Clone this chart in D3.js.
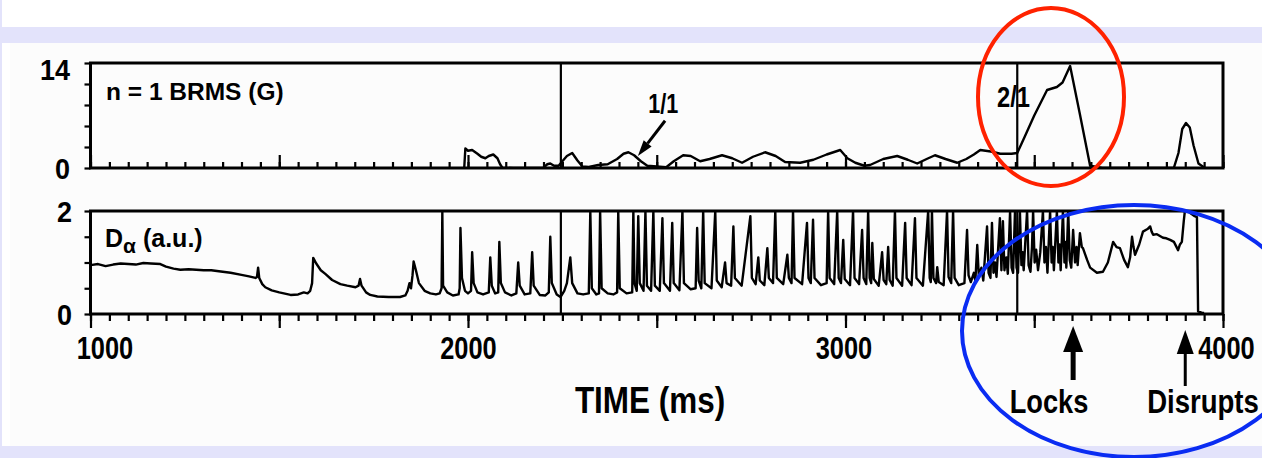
<!DOCTYPE html>
<html>
<head>
<meta charset="utf-8">
<script src="https://cdn.jsdelivr.net/npm/d3@7"></script>
<style>
  html, body { margin: 0; padding: 0; background: #fff; }
  svg { display: block; }
  text { font-family: "Liberation Sans", Arial, Helvetica, sans-serif; font-weight: bold; fill: #000; }
</style>
</head>
<body>
<svg id="chart" width="1262" height="458"></svg>
<script>
// ---------------- data ----------------
// time axis (ms)
const timeTicks = [1000, 2000, 3000, 4000];
// labelled ticks of the two vertical axes
const brmsTicks = [0, 14];
const dalphaTicks = [0, 2];
// onset of the 1/1 mode and of the 2/1 mode (ms)
const markerTimes = [2246, 3455];
// events marked under the time axis
const eventNames = ["Locks", "Disrupts"];
const eventTimes = [3603, 3900];

// n = 1 BRMS amplitude (G) versus time (ms)
const brms = [
  [1990,0],[1993,2.6],[2000,2.3],[2011,2.4],[2025,1.9],[2035,1.5],[2046,1.3],[2055,1.6],[2067,1.8],
  [2078,1.3],[2085,0.5],[2091,0.05],[2120,0],[2150,0],[2200,0.05],[2210,0.5],[2218,0.6],[2228,0.3],
  [2240,0.3],[2250,0.9],[2262,1.6],[2276,2.0],[2290,1.0],[2303,0.2],[2320,0.15],[2345,0.4],[2370,0.5],
  [2395,1.2],[2412,1.9],[2425,2.1],[2440,1.7],[2458,0.9],[2475,0.3],[2500,0.2],[2525,0.1],[2545,0.9],
  [2570,1.7],[2590,1.6],[2615,0.9],[2640,1.2],[2673,1.7],[2700,1.3],[2726,0.7],[2755,1.5],[2787,2.1],
  [2815,1.6],[2840,0.8],[2880,0.7],[2915,1.1],[2950,1.8],[2986,2.4],[3005,1.3],[3026,0.7],[3050,0.3],
  [3065,0.4],[3100,1.2],[3137,1.6],[3165,1.1],[3190,0.6],[3215,1.2],[3237,1.7],[3265,1.2],[3296,0.7],
  [3320,1.2],[3340,1.8],[3357,2.4],[3385,2.2],[3410,1.9],[3440,1.9],[3455,2.0],[3475,4.2],[3500,7.0],
  [3534,10.4],[3560,10.8],[3575,11.4],[3595,13.6],[3620,7.4],[3648,0.3],[3680,0],[3760,0],[3870,0.05],
  [3882,2.0],[3892,5.2],[3902,6.0],[3912,5.4],[3922,3.0],[3935,0.6],[3952,0]
];

// D-alpha emission (a.u.) versus time (ms)
const dalpha = [
  [1000,0.95],[1020,0.97],[1040,0.93],[1060,0.96],[1080,0.98],[1100,0.97],[1120,0.96],[1140,0.99],
  [1160,0.98],[1185,0.97],[1200,0.92],[1220,0.88],[1238,0.86],[1260,0.87],[1280,0.86],[1300,0.85],
  [1320,0.85],[1340,0.83],[1371,0.8],[1400,0.76],[1420,0.73],[1437,0.7],[1441,0.72],[1444,0.9],
  [1447,0.7],[1455,0.58],[1463,0.52],[1480,0.46],[1500,0.42],[1530,0.37],[1550,0.38],[1565,0.42],
  [1575,0.4],[1582,0.45],[1587,0.6],[1590,1.09],[1598,0.98],[1610,0.85],[1622,0.78],[1640,0.66],
  [1662,0.58],[1680,0.55],[1702,0.52],[1710,0.55],[1714,0.68],[1718,0.55],[1730,0.42],[1741,0.37],
  [1760,0.34],[1790,0.33],[1820,0.33],[1834,0.36],[1840,0.45],[1845,0.6],[1849,0.5],[1853,0.75],
  [1856,1.02],[1862,0.85],[1870,0.6],[1885,0.45],[1900,0.4],[1915,0.38],[1925,0.4],[1930,0.5],
  [1932,1.98],[1934,0.55],[1945,0.42],[1960,0.36],[1975,0.38],[1978,0.5],[1980,1.67],[1984,0.7],
  [1992,0.45],[2000,0.4],[2008,0.45],[2011,1.2],[2015,0.6],[2025,0.42],[2040,0.38],[2055,0.42],
  [2059,1.1],[2063,0.55],[2072,0.4],[2080,0.42],[2083,1.4],[2087,0.6],[2098,0.42],[2115,0.36],
  [2128,0.4],[2133,1.0],[2137,0.55],[2150,0.38],[2165,0.4],[2170,1.2],[2174,0.55],[2190,0.37],
  [2205,0.36],[2214,0.42],[2218,1.5],[2222,0.6],[2235,0.38],[2245,0.33],[2255,0.45],[2262,0.6],
  [2271,1.1],[2276,0.6],[2290,0.4],[2305,0.38],[2320,0.4],[2324,2.0],[2328,0.5],[2340,0.38],
  [2347,0.4],[2350,2.0],[2354,0.5],[2370,0.4],[2385,0.38],[2395,0.42],[2398,2.0],[2402,0.5],
  [2420,0.4],[2435,0.42],[2438,2.0],[2441,0.6],[2447,0.45],[2451,1.9],[2455,0.6],[2465,0.45],
  [2470,2.0],[2474,0.55],[2485,0.45],[2491,2.0],[2495,0.55],[2508,0.45],[2515,1.86],[2519,0.6],
  [2535,0.45],[2541,1.77],[2545,0.6],[2560,0.46],[2568,2.0],[2572,0.6],[2590,0.48],[2603,0.5],
  [2607,1.67],[2611,0.65],[2618,0.5],[2623,2.0],[2627,0.6],[2645,0.5],[2655,2.0],[2659,0.65],
  [2672,0.52],[2681,1.0],[2685,0.6],[2697,0.55],[2703,1.7],[2707,0.7],[2725,0.55],[2748,1.9],
  [2752,0.7],[2762,0.58],[2769,1.1],[2773,0.65],[2785,0.56],[2793,1.28],[2797,0.7],[2808,0.6],
  [2814,2.0],[2818,0.7],[2835,0.58],[2846,1.15],[2850,0.7],[2857,0.6],[2861,2.0],[2865,0.7],
  [2885,0.58],[2898,1.77],[2902,0.7],[2908,0.6],[2914,1.83],[2918,0.7],[2935,0.56],[2950,0.6],
  [2954,2.0],[2958,0.7],[2970,0.58],[2978,2.0],[2982,0.7],[2988,0.6],[2994,1.44],[2998,0.68],
  [3012,0.56],[3020,2.0],[3024,0.7],[3036,0.58],[3044,1.63],[3048,0.7],[3055,0.58],[3060,2.0],
  [3064,0.7],[3068,0.6],[3071,1.38],[3075,0.68],[3088,0.55],[3097,1.2],[3101,0.66],[3108,0.58],
  [3113,1.3],[3117,0.66],[3125,0.55],[3131,2.0],[3135,0.7],[3150,0.55],[3158,1.77],[3162,0.7],
  [3175,0.56],[3184,1.86],[3188,0.7],[3205,0.55],[3219,2.0],[3223,0.7],[3226,0.62],[3229,2.0],
  [3233,0.7],[3240,0.6],[3243,0.91],[3247,0.62],[3260,0.56],[3269,2.0],[3273,0.72],[3280,0.6],
  [3285,2.0],[3289,0.7],[3300,0.56],[3315,0.6],[3322,1.63],[3326,0.75],[3332,0.62],[3340,0.8],
  [3344,0.64],[3349,1.34],[3353,0.75],[3360,0.9],[3365,0.65],[3375,1.7],[3379,0.8],[3384,0.7],
  [3388,1.77],[3392,0.8],[3396,1.0],[3400,0.72],[3409,1.86],[3413,0.85],[3417,1.8],[3421,0.85],
  [3426,1.1],[3430,0.78],[3436,2.0],[3440,0.9],[3444,0.8],[3449,2.0],[3453,0.9],[3457,0.8],
  [3462,2.0],[3466,0.95],[3469,1.2],[3472,0.85],[3481,2.0],[3485,0.95],[3490,0.82],[3494,1.3],
  [3497,2.0],[3501,1.0],[3505,1.25],[3510,0.85],[3516,1.2],[3523,2.0],[3527,1.0],[3531,1.3],
  [3535,0.8],[3542,2.0],[3546,1.0],[3549,1.3],[3552,0.85],[3560,2.0],[3564,1.0],[3567,1.35],
  [3570,0.85],[3576,2.0],[3580,1.0],[3583,1.4],[3585,0.9],[3590,2.0],[3594,1.05],[3598,0.9],
  [3603,1.63],[3608,1.0],[3612,1.3],[3615,0.95],[3621,1.57],[3626,1.3],[3629,1.28],[3640,1.05],
  [3648,0.9],[3666,0.8],[3682,0.82],[3695,1.0],[3709,1.4],[3718,1.3],[3727,1.28],[3738,1.05],
  [3748,0.91],[3754,1.1],[3759,1.5],[3763,1.3],[3767,1.15],[3778,1.35],[3788,1.6],[3800,1.65],
  [3807,1.7],[3811,1.6],[3815,1.54],[3825,1.55],[3841,1.48],[3850,1.47],[3860,1.44],[3870,1.4],
  [3881,1.24],[3886,1.35],[3891,1.4],[3896,1.8],[3899,2.0],[3907,2.0],[3915,1.95],[3925,1.9],
  [3931,1.88],[3934,0.05],[3945,0.02],[3950,0.02]
];

// ---------------- layout ----------------
const W = 1262, H = 458;
const lavender = "#e3e3fb";
const svg = d3.select("#chart");

// page background
svg.append("rect").attr("width", W).attr("height", H).attr("fill", "#fff");
svg.append("rect").attr("x", 10).attr("y", 43).attr("width", W - 10).attr("height", 403).attr("fill", "#fcfcfc");
svg.append("rect").attr("x", 0).attr("y", 0).attr("width", 2).attr("height", H).attr("fill", lavender);
svg.append("rect").attr("x", 0).attr("y", 27).attr("width", W).attr("height", 16).attr("fill", lavender);
svg.append("rect").attr("x", 0).attr("y", 446).attr("width", W).attr("height", 12).attr("fill", lavender);

const x = d3.scaleLinear().domain([1000, 4000]).range([90.5, 1223]);
const yTop = d3.scaleLinear().domain([0, 14]).range([168, 63]);
const yBot = d3.scaleLinear().domain([0, 2]).range([314, 211]);

const minorTimes = d3.range(1000, 4001, 50);
const midTimes = d3.range(1000, 4001, 500);

// condensed bold text helper
function label(g, str, px, py, size, sx, anchor) {
  return g.append("text")
    .attr("transform", `translate(${px},${py}) scale(${sx},1)`)
    .attr("text-anchor", anchor || "middle")
    .attr("font-size", size)
    .text(str);
}

function panel(y, data, leftTicks, inward) {
  const g = svg.append("g");
  const [y0, y1] = y.range();
  const id = "clip" + Math.round(y0);
  svg.append("clipPath").attr("id", id)
    .append("rect").attr("x", x.range()[0]).attr("y", y1 - 1)
    .attr("width", x.range()[1] - x.range()[0]).attr("height", y0 - y1 + 1);

  // marker lines for the mode onsets
  g.selectAll("line.marker").data(markerTimes).join("line")
    .attr("class", "marker")
    .attr("x1", d => x(d)).attr("x2", d => x(d))
    .attr("y1", y1).attr("y2", y0)
    .attr("stroke", "#000").attr("stroke-width", 2.2);

  // signal trace
  g.append("path").datum(data)
    .attr("clip-path", `url(#${id})`)
    .attr("fill", "none").attr("stroke", "#000").attr("stroke-width", 2.4)
    .attr("stroke-linejoin", "round")
    .attr("d", d3.line().x(d => x(d[0])).y(d => y(d[1])));

  // time ticks along the bottom edge
  const minorAxis = d3.axisBottom(x).tickValues(minorTimes).tickFormat("")
    .tickSize(inward ? -6 : 7).tickSizeOuter(0);
  const midAxis = d3.axisBottom(x).tickValues(midTimes).tickFormat("")
    .tickSize(inward ? -13 : 14).tickSizeOuter(0);
  [minorAxis, midAxis].forEach(a => {
    const ax = g.append("g").attr("transform", `translate(0,${y0})`).call(a);
    ax.select(".domain").remove();
    ax.selectAll("line").attr("stroke", "#000").attr("stroke-width", 2.2);
  });

  // value ticks on the left edge
  const leftAxis = d3.axisLeft(y).tickValues(leftTicks).tickFormat("").tickSize(6).tickSizeOuter(0);
  const la = g.append("g").attr("transform", `translate(${x.range()[0]},0)`).call(leftAxis);
  la.select(".domain").remove();
  la.selectAll("line").attr("stroke", "#000").attr("stroke-width", 2.2);

  // frame
  g.append("rect")
    .attr("x", x.range()[0]).attr("y", y1)
    .attr("width", x.range()[1] - x.range()[0]).attr("height", y0 - y1)
    .attr("fill", "none").attr("stroke", "#000").attr("stroke-width", 3);
  return g;
}

const gTop = panel(yTop, brms, d3.range(0, 14.01, 2.8), true);
const gBot = panel(yBot, dalpha, d3.range(0, 2.01, 0.5), false);

// vertical-axis labels
brmsTicks.forEach((v, i) => label(svg, v, 70, yTop(v) + (i ? 17 : 11), 30, 0.9, "end"));
dalphaTicks.forEach(v => label(svg, v, 72, yBot(v) + 11, 30, 0.9, "end"));

// panel titles
svg.append("text").attr("x", 106).attr("y", 100).attr("font-size", 24.5).text("n = 1 BRMS (G)");
const dt = svg.append("text").attr("x", 105).attr("y", 247).attr("font-size", 25);
dt.append("tspan").text("D");
dt.append("tspan").attr("dy", 6).attr("font-size", 21).text("\u03b1");
dt.append("tspan").attr("dy", -6).text(" (a.u.)");

// time axis labels
const labelAxis = d3.axisBottom(x).tickValues(timeTicks).tickSize(0).tickPadding(0).tickFormat(d3.format("d"));
const lab = svg.append("g").attr("transform", "translate(0,336)").call(labelAxis);
lab.select(".domain").remove();
lab.selectAll("text")
  .attr("font-size", 31).attr("fill", "#000")
  .attr("font-family", "'Liberation Sans', Arial, sans-serif").attr("font-weight", "bold")
  .attr("dy", "0.73em")
  .attr("transform", (d, i) => `translate(${[14, 0, -2, 3][i]},0) scale(0.82,1)`);

label(svg, "TIME (ms)", 650, 413, 37, 0.85);

// mode labels and 1/1 pointer
label(svg, "1/1", x(2517), 113, 27, 0.8);
label(svg, "2/1", x(3445), 107, 29, 0.82);
{
  const tail = [x(2522), yTop(6.3)], tip = [x(2450), yTop(1.6)];
  const ang = Math.atan2(tip[1] - tail[1], tip[0] - tail[0]);
  const back = 16, half = 5;
  const bx = tip[0] - back * Math.cos(ang), by = tip[1] - back * Math.sin(ang);
  svg.append("line").attr("x1", tail[0]).attr("y1", tail[1]).attr("x2", bx).attr("y2", by)
    .attr("stroke", "#000").attr("stroke-width", 3);
  svg.append("path").attr("fill", "#000").attr("d",
    `M${tip[0]},${tip[1]}L${bx + half * Math.sin(ang)},${by - half * Math.cos(ang)}L${bx - half * Math.sin(ang)},${by + half * Math.cos(ang)}Z`);
}

// event arrows beneath the time axis
const evArrow = [{top: 326, head: 26, half: 10, bottom: 380, w: 5}, {top: 330, head: 24, half: 8.5, bottom: 386, w: 3}];
eventTimes.forEach((t, i) => {
  const a = evArrow[i], cx = x(t);
  svg.append("line").attr("x1", cx).attr("x2", cx).attr("y1", a.top + a.head - 2).attr("y2", a.bottom)
    .attr("stroke", "#000").attr("stroke-width", a.w);
  svg.append("path").attr("fill", "#000")
    .attr("d", `M${cx},${a.top}L${cx + a.half},${a.top + a.head}L${cx - a.half},${a.top + a.head}Z`);
});
label(svg, eventNames[0], 1049, 413, 34, 0.8);
label(svg, eventNames[1], 1203, 413, 34, 0.81);

// highlight ellipses
svg.append("ellipse").attr("cx", 1051).attr("cy", 97).attr("rx", 73).attr("ry", 89)
  .attr("fill", "none").attr("stroke", "#ff2200").attr("stroke-width", 4);
svg.append("ellipse").attr("cx", 1134).attr("cy", 331).attr("rx", 172).attr("ry", 126)
  .attr("fill", "none").attr("stroke", "#0a2cf2").attr("stroke-width", 4);
</script>
</body>
</html>
